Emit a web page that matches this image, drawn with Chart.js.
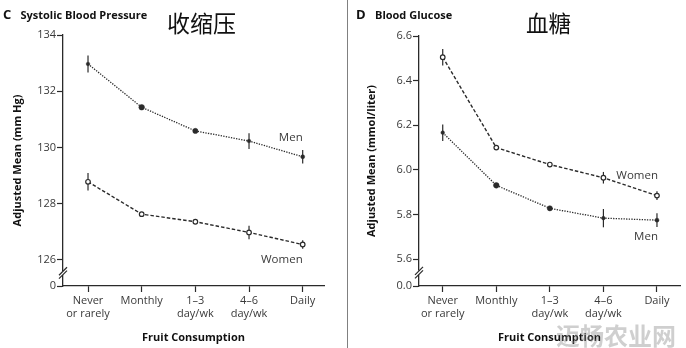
<!DOCTYPE html>
<html>
<head>
<meta charset="utf-8">
<script src="https://cdn.jsdelivr.net/npm/chart.js@4.4.1/dist/chart.umd.min.js"></script>
<style>
  body { margin: 0; background: #fff; }
  #wrap { position: relative; width: 686px; height: 348px; overflow: hidden; background: #fff; }
  #bp { position: absolute; left: 0; top: 0; }
  #glu { position: absolute; left: 348px; top: 0; }
  #sep { position: absolute; left: 346.5px; top: 0; width: 1.5px; height: 348px; background: #808080; }
</style>
</head>
<body>
<div id="wrap">
  <canvas id="bp" width="347" height="348"></canvas>
  <div id="sep"></div>
  <canvas id="glu" width="338" height="348"></canvas>
</div>
<script>
var categories = [["Never", "or rarely"], "Monthly", ["1–3", "day/wk"], ["4–6", "day/wk"], "Daily"];
var seriesNames = ["Men", "Women"];

// systolic blood pressure (mm Hg)
var bpMen = [132.97, 131.43, 130.59, 130.23, 129.67];
var bpMenErr = [0.30, 0.07, 0.06, 0.28, 0.24];
var bpWomen = [128.78, 127.63, 127.36, 126.98, 126.55];
var bpWomenErr = [0.31, 0.05, 0.05, 0.24, 0.15];
var bpTicks = [126, 128, 130, 132, 134];
var bpFloor = 125.075;      // broken axis: the "0" sits here
var bpFloorLabel = "0";

// blood glucose (mmol/liter)
var gluMen = [6.167, 5.931, 5.828, 5.784, 5.775];
var gluMenErr = [0.037, 0.010, 0.010, 0.041, 0.031];
var gluWomen = [6.505, 6.100, 6.024, 5.965, 5.885];
var gluWomenErr = [0.037, 0.008, 0.008, 0.026, 0.020];
var gluTicks = [5.6, 5.8, 6.0, 6.2, 6.4, 6.6];
var gluFloor = 5.48;
var gluFloorLabel = "0.0";

var ink = "#2a2a2a";
var textColor = "#3a3a3a";
var sans = '"Open Sans", "Noto Sans", sans-serif';

function points(values) {
  return values.map(function (v, i) { return { x: i, y: v }; });
}

// error bars, panel headings, series names and the axis break
function decor(p) {
  return {
    id: "decor",
    beforeDatasetsDraw: function (chart) {
      var ctx = chart.ctx, xs = chart.scales.x, ys = chart.scales.y;
      ctx.save();
      ctx.strokeStyle = ink;
      ctx.lineWidth = 1.2;
      p.series.forEach(function (s) {
        s.values.forEach(function (v, i) {
          var x = xs.getPixelForValue(i);
          ctx.beginPath();
          ctx.moveTo(x, ys.getPixelForValue(v - s.err[i]));
          ctx.lineTo(x, ys.getPixelForValue(v + s.err[i]));
          ctx.stroke();
        });
      });
      ctx.restore();
    },
    afterDraw: function (chart) {
      var ctx = chart.ctx, xs = chart.scales.x, ys = chart.scales.y, area = chart.chartArea;
      ctx.save();
      ctx.fillStyle = "#111";
      ctx.textBaseline = "alphabetic";
      ctx.font = "bold 13px " + sans;
      ctx.fillText(p.letter, p.letterX, 19);
      ctx.font = "bold 11px " + sans;
      ctx.fillText(p.title, p.titleX, 19);
      ctx.font = p.captionSize + 'px "Noto Sans CJK SC"';
      ctx.textBaseline = "middle";
      ctx.fillText(p.caption, p.captionX, 23);

      // series names next to the Daily points
      ctx.font = "11.5px " + sans;
      ctx.fillStyle = textColor;
      ctx.textAlign = "right";
      p.series.forEach(function (s) {
        var last = s.values.length - 1;
        ctx.fillText(s.name, xs.getPixelForValue(last) + p.nameDx,
          ys.getPixelForValue(s.values[last]) + s.nameDy);
      });

      // axis break between the floor and the first real tick
      var x0 = area.left;
      var mid = (ys.getPixelForValue(p.ticks[0]) + area.bottom) / 2;
      ctx.fillStyle = "#fff";
      ctx.fillRect(x0 - 2, mid - 2, 4, 4);
      ctx.strokeStyle = ink;
      ctx.lineWidth = 1.2;
      [-1.7, 1.7].forEach(function (d) {
        ctx.beginPath();
        ctx.moveTo(x0 - 4, mid + d + 4);
        ctx.lineTo(x0 + 4, mid + d - 4);
        ctx.stroke();
      });

      if (p.mark) {
        ctx.textAlign = "left";
        ctx.textBaseline = "middle";
        ctx.font = "bold 24px \"Noto Sans CJK SC\"";
        ctx.fillStyle = "rgba(140,140,140,0.42)";
        ctx.fillText(p.mark, p.markX, 336);
      }
      ctx.restore();
    }
  };
}

function makePanel(id, p) {
  return new Chart(id, {
    type: "line",
    data: {
      datasets: [
        {
          label: p.series[0].name,
          data: points(p.series[0].values),
          borderColor: ink,
          borderWidth: 1.3,
          borderDash: [1.3, 1.3],
          pointRadius: [1.8, 2.8, 2.6, 1.8, 2],
          pointBackgroundColor: ink,
          pointBorderColor: ink,
          pointBorderWidth: 0.5
        },
        {
          label: p.series[1].name,
          data: points(p.series[1].values),
          borderColor: ink,
          borderWidth: 1.4,
          borderDash: [3.5, 2],
          pointRadius: 2.3,
          pointBackgroundColor: "#fff",
          pointBorderColor: ink,
          pointBorderWidth: 1.2
        }
      ]
    },
    options: {
      responsive: false,
      animation: false,
      layout: { padding: { top: p.top, right: p.right, left: 0, bottom: 0 } },
      plugins: { legend: { display: false }, tooltip: { enabled: false } },
      scales: {
        x: {
          type: "linear",
          min: p.xMin,
          max: p.xMax,
          afterFit: function (s) { s.height = 62; },
          afterBuildTicks: function (s) {
            s.ticks = categories.map(function (c, i) { return { value: i }; });
          },
          grid: { drawOnChartArea: false, tickLength: 6, color: ink, tickWidth: 1.2 },
          border: { color: ink, width: 1.3 },
          ticks: {
            padding: 2,
            color: textColor,
            font: { family: sans, size: 11 },
            callback: function (v) { return categories[v]; }
          },
          title: {
            display: true,
            text: "Fruit Consumption",
            color: "#111",
            font: { family: sans, size: 11, weight: "bold" },
            padding: { top: 0, bottom: 4 }
          }
        },
        y: {
          min: p.floor,
          max: p.ticks[p.ticks.length - 1],
          afterFit: function (s) { s.width = p.axisX; },
          afterBuildTicks: function (s) {
            s.ticks = [{ value: p.floor }].concat(p.ticks.map(function (v) { return { value: v }; }));
          },
          grid: { drawOnChartArea: false, tickLength: 6, color: ink, tickWidth: 1.2 },
          border: { color: ink, width: 1.3 },
          ticks: {
            padding: 1,
            color: textColor,
            font: { family: sans, size: 11 },
            callback: function (v) { return v === p.floor ? p.floorLabel : v.toFixed(p.decimals); }
          },
          title: {
            display: true,
            text: p.yTitle,
            color: "#111",
            font: { family: sans, size: 11, weight: "bold" },
            padding: { top: p.yTitlePad, bottom: 0 }
          }
        }
      }
    },
    plugins: [decor(p)]
  });
}

makePanel("bp", {
  letter: "C", letterX: 3, title: "Systolic Blood Pressure", titleX: 20.5,
  caption: "收缩压", captionX: 167, captionSize: 23,
  yTitle: "Adjusted Mean (mm Hg)", yTitlePad: 11,
  top: 35, right: 23, axisX: 63, xMin: -0.466, xMax: 4.397,
  floor: bpFloor, floorLabel: bpFloorLabel, ticks: bpTicks, decimals: 0,
  nameDx: 0,
  series: [
    { name: seriesNames[0], values: bpMen, err: bpMenErr, nameDy: -19 },
    { name: seriesNames[1], values: bpWomen, err: bpWomenErr, nameDy: 15 }
  ]
});

makePanel("glu", {
  letter: "D", letterX: 8, title: "Blood Glucose", titleX: 27,
  caption: "血糖", captionX: 178, captionSize: 22.5,
  yTitle: "Adjusted Mean (mmol/liter)", yTitlePad: 17,
  top: 36, right: 6, axisX: 71, xMin: -0.443, xMax: 4.43,
  floor: gluFloor, floorLabel: gluFloorLabel, ticks: gluTicks, decimals: 1,
  nameDx: 1,
  series: [
    { name: seriesNames[0], values: gluMen, err: gluMenErr, nameDy: 17 },
    { name: seriesNames[1], values: gluWomen, err: gluWomenErr, nameDy: -20 }
  ],
  mark: "迈畅农业网", markX: 208
});
</script>
</body>
</html>
